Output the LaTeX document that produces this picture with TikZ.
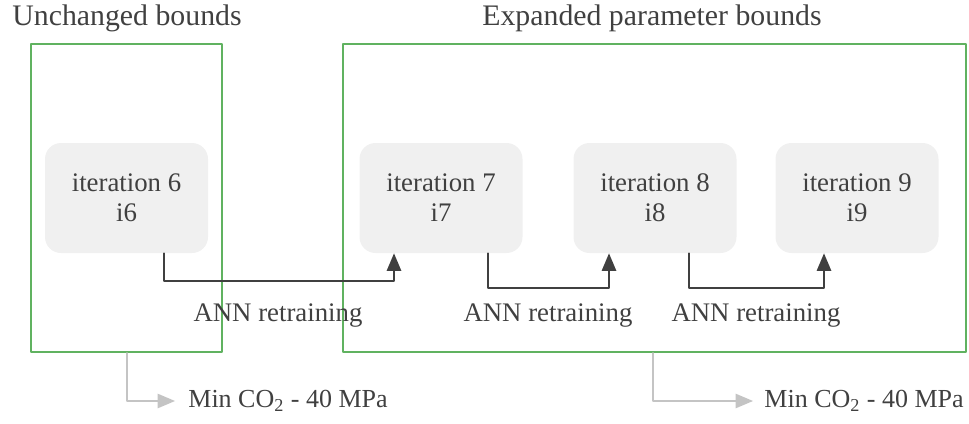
\documentclass[tikz,border=0pt]{standalone}
\usepackage{fontspec}
\setmainfont{Liberation Serif}
\usepackage{tikz}
\usetikzlibrary{arrows}
\definecolor{txtgray}{RGB}{64,64,64}
\definecolor{boxfill}{RGB}{240,240,240}
\definecolor{boundgreen}{RGB}{96,178,96}
\definecolor{notegray}{RGB}{196,196,196}
\tikzset{
  iter/.style={rounded corners=8pt,fill=boxfill,minimum width=81.5pt,minimum height=55pt,align=center,text=txtgray,font=\fontsize{13.4}{15}\selectfont},
  bounds/.style={draw=boundgreen,line width=1.2pt,minimum width=#1,minimum height=154pt,inner sep=0pt},
  flow/.style={->,draw=txtgray,line width=1pt},
  note/.style={->,draw=notegray,line width=1pt},
  lbl/.style={text=txtgray,font=\fontsize{13.4}{15}\selectfont,inner sep=0pt},
  minlbl/.style={text=txtgray,font=\fontsize{13}{15}\selectfont,inner sep=0pt,anchor=west},
  ttl/.style={text=txtgray,font=\fontsize{14.9}{17}\selectfont,inner sep=0pt}
}
\begin{document}
\begin{tikzpicture}[line cap=round,line join=round,>=triangle 45,x=0.5pt,y=-0.5pt]
\useasboundingbox (0,0) rectangle (969,423);
\node[bounds=95.5pt] (lb) at (126.5,198) {};
\node[bounds=311.5pt] (rb) at (654.5,198) {};
\node[ttl,anchor=west] (lt) at (12,18) {Unchanged bounds};
\node[ttl] (rt) at (652,18) {Expanded parameter bounds};
\node[iter] (i6) at (126.5,198) {iteration 6\\i6};
\node[iter] (i7) at (441,198) {iteration 7\\i7};
\node[iter] (i8) at (655,198) {iteration 8\\i8};
\node[iter] (i9) at (857,198) {iteration 9\\i9};
\draw[flow] ([xshift=18.75pt]i6.south) -- ++(0,28) -| ([xshift=-23.5pt]i7.south);
\draw[flow] ([xshift=23.5pt]i7.south) -- ++(0,35) -| ([xshift=-23pt]i8.south);
\draw[flow] ([xshift=17pt]i8.south) -- ++(0,35) -| ([xshift=-16.5pt]i9.south);
\node[lbl] (a1) at (278,316) {ANN retraining};
\node[lbl] (a2) at (548,316) {ANN retraining};
\node[lbl] (a3) at (756,316) {ANN retraining};
\node[minlbl] (m1) at (188,401) {Min CO\textsubscript{2} - 40 MPa};
\node[minlbl] (m2) at (764,401) {Min CO\textsubscript{2} - 40 MPa};
\draw[note] ([xshift=0.25pt]lb.south) |- ([xshift=-6.5pt]m1.west);
\draw[note] ([xshift=-0.75pt]rb.south) |- ([xshift=-5.5pt]m2.west);
\end{tikzpicture}
\end{document}
